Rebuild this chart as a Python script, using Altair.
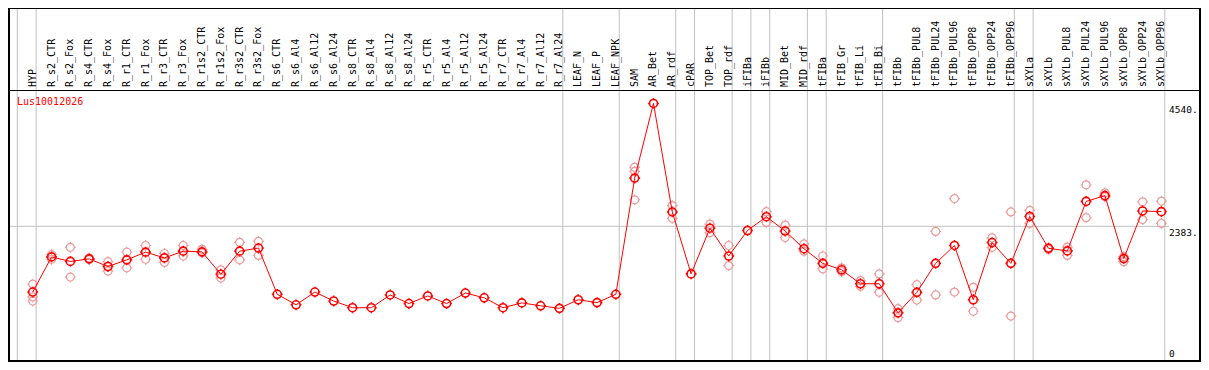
import altair as alt
import pandas as pd

categories = [
    "HYP", "R_s2_CTR", "R_s2_Fox", "R_s4_CTR", "R_s4_Fox", "R_r1_CTR", "R_r1_Fox",
    "R_r3_CTR", "R_r3_Fox", "R_r1s2_CTR", "R_r1s2_Fox", "R_r3s2_CTR", "R_r3s2_Fox",
    "R_s6_CTR", "R_s6_Al4", "R_s6_Al12", "R_s6_Al24", "R_s8_CTR", "R_s8_Al4",
    "R_s8_Al12", "R_s8_Al24", "R_r5_CTR", "R_r5_Al4", "R_r5_Al12", "R_r5_Al24",
    "R_r7_CTR", "R_r7_Al4", "R_r7_Al12", "R_r7_Al24", "LEAF_N", "LEAF_P", "LEAF_NPK",
    "SAM", "AR_Bet", "AR_rdf", "cPAR", "TOP_Bet", "TOP_rdf", "iFIBa", "iFIBb",
    "MID_Bet", "MID_rdf", "tFIBa", "tFIB_Gr", "tFIB_Li", "tFIB_Bi", "tFIBb",
    "tFIBb_PUL8", "tFIBb_PUL24", "tFIBb_PUL96", "tFIBb_OPP8", "tFIBb_OPP24",
    "tFIBb_OPP96", "sXYLa", "sXYLb", "sXYLb_PUL8", "sXYLb_PUL24", "sXYLb_PUL96",
    "sXYLb_OPP8", "sXYLb_OPP24", "sXYLb_OPP96",
]

means = [
    1228, 1845, 1766, 1811, 1677, 1794, 1929, 1828, 1946, 1934, 1542, 1946, 2001,
    1189, 1004, 1228, 1071, 953, 953, 1177, 1026, 1160, 1026, 1211, 1127,
    953, 1038, 987, 942, 1093, 1043, 1189,
    3229, 4540, 2635, 1547, 2349, 1861, 2309, 2551, 2299, 1989, 1732, 1619,
    1374, 1374, 863, 1223, 1732, 2046, 1093, 2097, 1732,
    2556, 1996, 1951, 2820, 2921, 1816, 2652, 2640,
]

replicates = [
    [1367, 1143, 1071], [1888, 1804], [2013, 1492], [1824, 1799], [1761, 1597],
    [1929, 1653], [2046, 1804], [1905, 1749], [2046, 1861], [1979, 1917],
    [1619, 1475], [2102, 1794], [2119, 1872],
    [], [], [], [], [], [], [], [], [], [], [], [], [], [], [], [], [], [], [],
    [3419, 3346, 2847], [], [2746, 2522], [], [2421, 2270], [2046, 1693], [],
    [2640, 2450], [2405, 2186], [2073, 1946], [1861, 1636], [1653, 1586],
    [1429, 1328], [1547, 1223], [937, 779], [1357, 1088], [2292, 1177],
    [2870, 1228], [1312, 891], [2181, 2013], [2635, 807],
    [2662, 2433], [2009, 1976], [2018, 1872], [3111, 2534], [2971, 2901],
    [1850, 1761], [2813, 2500], [2825, 2433],
]

groups_end_after = [0, 1, 29, 32, 35, 36, 38, 39, 40, 42, 43, 46, 53, 54, 61]
grid_values = [2383]
upper_tick_values = [2383, 4540]
upper_tick_labels = ["2383.", "4540."]
zero_tick_values = [0]
zero_tick_labels = ["0"]
gene = "Lus10012026"

W, H = 1158, 272
HEADER, RIGHT = 82, 35
FONT = "DejaVu Sans Mono"

mean_df = pd.DataFrame({"idx": list(range(1, len(categories) + 1)),
                        "cat": categories, "value": means})
rep_rows = []
for i, vals in enumerate(replicates, start=1):
    for v in vals:
        rep_rows.append({"idx": i, "value": v})
rep_df = pd.DataFrame(rep_rows)
sep_df = pd.DataFrame({"x": [g + 0.18 for g in groups_end_after]})
grid_df = pd.DataFrame({"value": grid_values})
up_df = pd.DataFrame({"value": upper_tick_values, "label": upper_tick_labels})
zero_df = pd.DataFrame({"value": zero_tick_values, "label": zero_tick_labels})
one = pd.DataFrame({"k": [0]})
title_df = pd.DataFrame({"t": [gene]})

xs = alt.Scale(domain=[-0.3147, 61.246], nice=False, zero=False)
ys = alt.Scale(domain=[0, 4776], nice=False, zero=False)

K = "0.5523"
SYMBOL = (f"M1,0C1,{K} {K},1 0,1C-{K},1 -1,{K} -1,0"
          f"C-1,-{K} -{K},-1 0,-1C{K},-1 1,-{K} 1,0Z"
          "M0,-1L0,-1.35M0,1L0,1.35M-1,0L-1.35,0M1,0L1.35,0")

seps = alt.Chart(sep_df).mark_rule(color="#c0c0c0", strokeWidth=1).encode(
    x=alt.X("x:Q", scale=xs, axis=None),
    y=alt.value(-HEADER), y2=alt.value(H))

hgrid = alt.Chart(grid_df).mark_rule(color="#c0c0c0", strokeWidth=1).encode(
    y=alt.Y("value:Q", scale=ys, axis=None),
    x=alt.value(0), x2=alt.value(W + 3))

reps_layer = alt.Chart(rep_df).mark_point(
    shape=SYMBOL, size=64, filled=False, color="#ec9a9a", strokeWidth=1.2, opacity=1
).encode(x=alt.X("idx:Q", scale=xs, axis=None), y=alt.Y("value:Q", scale=ys, axis=None))

line = alt.Chart(mean_df).mark_line(color="#ff0000", strokeWidth=1).encode(
    x=alt.X("idx:Q", scale=xs, axis=None), y=alt.Y("value:Q", scale=ys, axis=None))

mean_pts = alt.Chart(mean_df).mark_point(
    shape=SYMBOL, size=64, filled=False, color="#ff0000", strokeWidth=1.6, opacity=1
).encode(x=alt.X("idx:Q", scale=xs, axis=None), y=alt.Y("value:Q", scale=ys, axis=None))

top_labels = alt.Chart(mean_df).mark_text(
    angle=270, align="left", baseline="middle", font=FONT, fontSize=10, color="black"
).encode(x=alt.X("idx:Q", scale=xs, axis=None), y=alt.value(-3), text="cat:N")

up_labels = alt.Chart(up_df).mark_text(
    align="left", baseline="top", dy=2, font=FONT, fontSize=9.5, color="black"
).encode(x=alt.value(W + 3), y=alt.Y("value:Q", scale=ys, axis=None), text="label:N")

zero_labels = alt.Chart(zero_df).mark_text(
    align="left", baseline="bottom", dy=-3, font=FONT, fontSize=9.5, color="black"
).encode(x=alt.value(W + 3), y=alt.Y("value:Q", scale=ys, axis=None), text="label:N")

title = alt.Chart(title_df).mark_text(
    align="left", baseline="middle", font=FONT, fontSize=10, color="#ff0000"
).encode(x=alt.value(9), y=alt.value(12), text="t:N")

frame_left = alt.Chart(one).mark_rule(color="black", strokeWidth=2).encode(
    x=alt.value(1), y=alt.value(-HEADER), y2=alt.value(H))
frame_right = alt.Chart(one).mark_rule(color="black", strokeWidth=2).encode(
    x=alt.value(W + RIGHT - 1), y=alt.value(-HEADER), y2=alt.value(H))
frame_top = alt.Chart(one).mark_rule(color="black", strokeWidth=1).encode(
    y=alt.value(-HEADER + 0.5), x=alt.value(0), x2=alt.value(W + RIGHT))
frame_header = alt.Chart(one).mark_rule(color="black", strokeWidth=1).encode(
    y=alt.value(0.5), x=alt.value(0), x2=alt.value(W + RIGHT))
frame_bottom = alt.Chart(one).mark_rule(color="black", strokeWidth=2).encode(
    y=alt.value(H - 1), x=alt.value(0), x2=alt.value(W + RIGHT))

chart = alt.layer(
    seps, hgrid, reps_layer, line, mean_pts, top_labels, up_labels, zero_labels,
    title, frame_left, frame_right, frame_top, frame_header, frame_bottom
).properties(
    width=W, height=H,
    padding={"left": 0, "top": HEADER, "right": RIGHT, "bottom": 0},
    autosize=alt.AutoSizeParams(type="none"),
    background="white",
).configure_view(strokeWidth=0)

chart.save("out.html", embed_options={"renderer": "svg", "actions": False})
